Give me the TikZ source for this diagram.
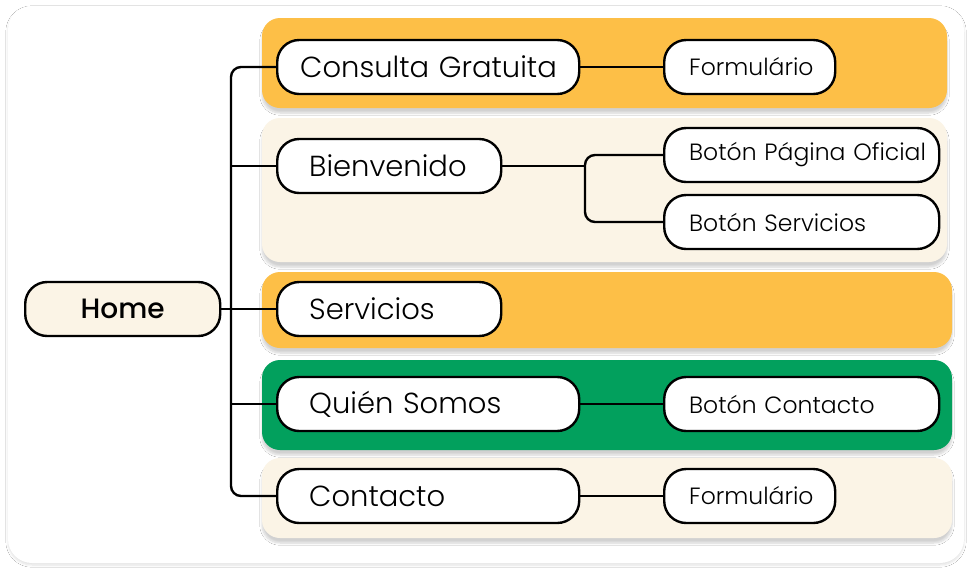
\documentclass[tikz,border=0pt]{standalone}
\usepackage{fontspec}
\setmainfont{Poppins}[UprightFont={* Light},BoldFont={* Medium}]
\usetikzlibrary{shadows.blur}

\definecolor{bandorange}{HTML}{FDBF47}
\definecolor{bandcream}{HTML}{FBF4E6}
\definecolor{bandgreen}{HTML}{02A05D}

\tikzset{
	band/.style={fill=#1,rounded corners=18pt,blur shadow={shadow xshift=0pt,shadow yshift=-5pt,shadow blur steps=8,shadow opacity=18}},
	pill/.style={draw,line width=2.4pt,fill=white,rounded corners=22pt,minimum height=54pt,inner ysep=3pt,anchor=west},
	item/.style={pill,text width=#1,align=left,inner xsep=32pt,font=\fontsize{29}{34}\selectfont,
		execute at begin node={\leavevmode\hbox\bgroup},execute at end node={\egroup}},
	subitem/.style={item=#1,inner xsep=25pt,font=\fontsize{23.5}{28}\selectfont},
	link/.style={line width=2.4pt,rounded corners=10pt},
}

\begin{document}
\begin{tikzpicture}[x=1pt,y=-1pt]
	\useasboundingbox (0,0) rectangle (968,568);
	\fill[white] (0,0) rectangle (968,568);

	% card
	\fill[white,rounded corners=24pt,blur shadow={shadow xshift=0pt,shadow yshift=-2pt,shadow blur steps=8,shadow opacity=12}] (8,6) rectangle (964,563);

	% bands
	\fill[band=bandorange] (262,18)  rectangle (947,108);
	\fill[band=bandcream]  (262,118) rectangle (947,262);
	\fill[band=bandorange] (262,272) rectangle (952,348);
	\fill[band=bandgreen]  (262,360) rectangle (952,450);
	\fill[band=bandcream]  (262,458) rectangle (952,538);

	% nodes
	\node[pill,fill=bandcream,minimum width=195pt,font=\fontsize{28}{34}\selectfont\bfseries] (home) at (24,309) {Home};

	\node[item=256pt,inner xsep=23pt] (consulta) at (276,67) {Consulta Gratuita};
	\node[item=160pt] (bienvenido) at (276,166) {Bienvenido};
	\node[item=160pt] (servicios)  at (276,309) {Servicios};
	\node[item=238pt] (quien)      at (276,404) {Quién Somos};
	\node[item=238pt] (contacto)   at (276,496) {Contacto};

	\node[subitem=121pt] (form1)   at (663,67)  {Formulário};
	\node[subitem=225pt] (pagina)  at (663,155) {Botón Página Oficial};
	\node[subitem=225pt] (botserv) at (663,222) {Botón Servicios};
	\node[subitem=225pt] (botcont) at (663,404) {Botón Contacto};
	\node[subitem=121pt] (form2)   at (663,496) {Formulário};

	% connectors
	\coordinate (trunk) at (231,309);
	\coordinate (fork)  at (585,166);

	\draw[link] (consulta.west) -| (trunk) |- (contacto.west);
	\draw[link] (home.east) -- (servicios.west);
	\draw[link] (bienvenido.west) -- (bienvenido.west -| trunk);
	\draw[link] (quien.west) -- (quien.west -| trunk);

	\draw[link] (consulta.east) -- (form1.west);
	\draw[link] (bienvenido.east) -- (fork);
	\draw[link] (pagina.west) -| (botserv.west -| fork) -- (botserv.west);
	\draw[link] (quien.east) -- (botcont.west);
	\draw[link] (contacto.east) -- (form2.west);

\end{tikzpicture}
\end{document}
